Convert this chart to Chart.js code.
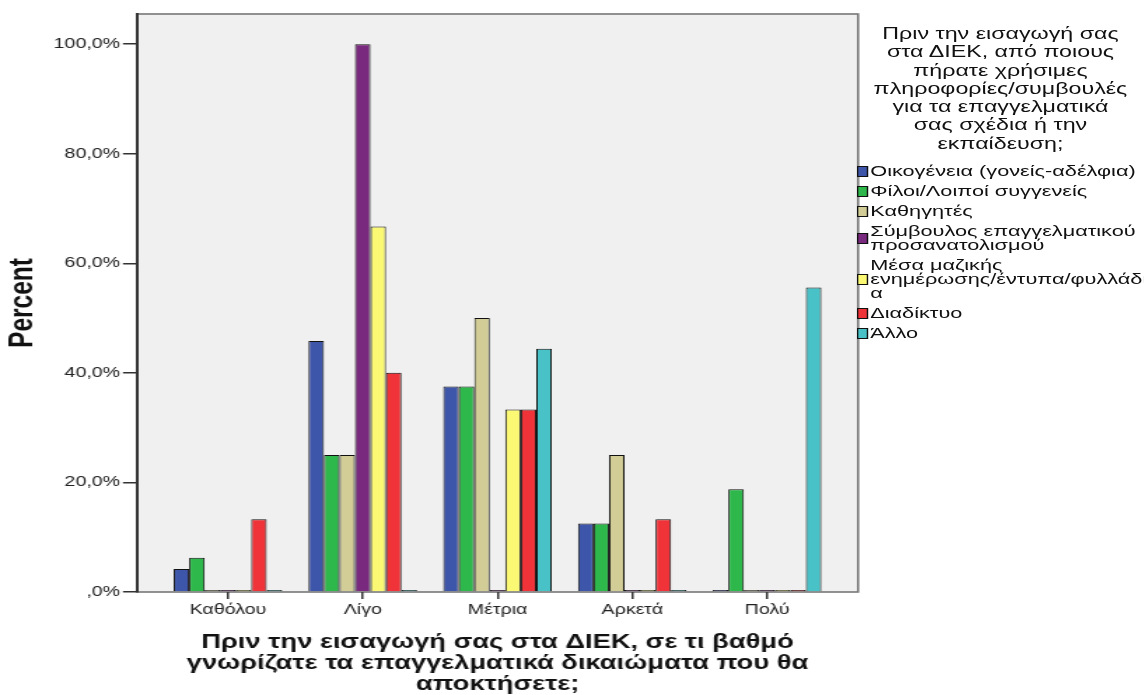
<!DOCTYPE html>
<html>
<head>
<meta charset="utf-8">
<script src="https://cdn.jsdelivr.net/npm/chart.js@4"></script>
<style>
  body { margin: 0; background: #fff; overflow: hidden; font-family: 'Liberation Sans', Arial, sans-serif; }
  /* the original picture is stretched sideways, so the whole chart is drawn narrow and scaled */
  #wrap { position: absolute; left: 0; top: 0; width: 817px; height: 695px; transform: scaleX(1.40024); transform-origin: 0 0; }
  #box { position: absolute; left: 0; top: 0; width: 817px; height: 695px; }
  #legend_title { position: absolute; left: 612px; top: 25px; width: 205px; text-align: center; font-size: 16.6px; line-height: 18.3px; color: #111; }
  #legend_items { position: absolute; left: 612px; top: 164px; }
  .item { display: flex; align-items: center; margin-bottom: 6px; }
  .swatch { width: 6px; height: 9px; border: 1px solid #111; margin-right: 1.5px; flex: none; }
  .txt { font-size: 15.5px; line-height: 14px; color: #111; white-space: nowrap; }
</style>
</head>
<body>
<div id="wrap">
  <div id="box"><canvas id="myChart"></canvas></div>
  <div id="legend_title"></div>
  <div id="legend_items"></div>
</div>
<script>
const categories = ['Καθόλου', 'Λίγο', 'Μέτρια', 'Αρκετά', 'Πολύ']
const series_names = [
    'Οικογένεια (γονείς-αδέλφια)',
    'Φίλοι/Λοιποί συγγενείς',
    'Καθηγητές',
    'Σύμβουλος επαγγελματικού\nπροσανατολισμού',
    'Μέσα μαζικής\nενημέρωσης/έντυπα/φυλλάδι\nα',
    'Διαδίκτυο',
    'Άλλο'
]
const series_colors = ['#3e56aa', '#2eb84b', '#d2cd96', '#7a2a7e', '#fbf874', '#ef3339', '#48c2c7']

// percent per category, one list per series
const family = [4.2, 45.8, 37.5, 12.5, 0]
const friends = [6.25, 25.0, 37.5, 12.5, 18.75]
const teachers = [0, 25.0, 50.0, 25.0, 0]
const counsellor = [0, 100.0, 0, 0, 0]
const media = [0, 66.7, 33.3, 0, 0]
const internet = [13.3, 40.0, 33.3, 13.3, 0]
const other = [0, 0, 44.4, 0, 55.6]

const y_tick_values = [0, 20, 40, 60, 80, 100]
const y_tick_labels = [',0%', '20,0%', '40,0%', '60,0%', '80,0%', '100,0%']

const legend_title = 'Πριν την εισαγωγή σας\nστα ΔΙΕΚ, από ποιους\nπήρατε χρήσιμες\nπληροφορίες/συμβουλές\nγια τα επαγγελματικά\nσας σχέδια ή την\nεκπαίδευση;'
const x_title = ['Πριν την εισαγωγή σας στα ΔΙΕΚ, σε τι βαθμό', 'γνωρίζατε τα επαγγελματικά δικαιώματα που θα', 'αποκτήσετε;']

const all_series = [family, friends, teachers, counsellor, media, internet, other]

// legend as html because the labels wrap over several lines
document.getElementById('legend_title').innerHTML = legend_title.split('\n').join('<br>')
const legend_items = document.getElementById('legend_items')
series_names.forEach((name, i) => {
    const item = document.createElement('div')
    item.className = 'item'
    item.innerHTML = `<div class="swatch" style="background:${series_colors[i]}"></div><div class="txt">${name.split('\n').join('<br>')}</div>`
    legend_items.appendChild(item)
})

const plot_frame = {
    id: 'plot_frame',
    beforeDraw(chart) {
        const { ctx, chartArea: a } = chart
        ctx.save()
        ctx.fillStyle = '#f0f0f0'
        ctx.fillRect(a.left, a.top, a.right - a.left, a.bottom - a.top)
        ctx.strokeStyle = '#777'
        ctx.lineWidth = 1.6
        ctx.strokeRect(a.left, a.top, a.right - a.left, a.bottom - a.top)
        ctx.restore()
    }
}

const ctx = document.getElementById('myChart')
new Chart(ctx, {
    type: 'bar',
    data: {
        datasets: all_series.map((values, i) => ({
            label: series_names[i].replace(/\n/g, ' '),
            data: values.map((v, j) => ({ x: j + 1, y: v })),
            backgroundColor: series_colors[i],
            borderColor: '#111',
            borderWidth: 1,
            minBarLength: 2
        }))
    },
    options: {
        responsive: true,
        maintainAspectRatio: false,
        animation: false,
        categoryPercentage: 0.805,
        barPercentage: 1,
        layout: { padding: { left: 0, top: 14, right: 204.2, bottom: 0 } },
        plugins: { legend: { display: false }, tooltip: { enabled: false } },
        scales: {
            x: {
                type: 'linear',
                offset: false,
                min: 0.325,
                max: 5.675,
                afterFit: (scale) => { scale.height = 103 },
                afterBuildTicks: (scale) => { scale.ticks = categories.map((c, i) => ({ value: i + 1 })) },
                ticks: {
                    callback: (value, index) => categories[index],
                    font: { family: 'Liberation Sans', size: 14 },
                    color: '#222',
                    padding: 3,
                    maxRotation: 0
                },
                grid: { offset: false, drawOnChartArea: false, tickLength: 7, color: '#333', lineWidth: 1.5 },
                border: { display: false },
                title: {
                    display: true,
                    text: x_title,
                    font: { family: 'Liberation Sans', size: 19.5, weight: 'bold', lineHeight: 1.08 },
                    color: '#111',
                    padding: 0
                }
            },
            y: {
                min: 0,
                max: 105.5,
                afterFit: (scale) => { scale.width = 97.8 },
                afterBuildTicks: (scale) => { scale.ticks = y_tick_values.map(v => ({ value: v })) },
                ticks: {
                    callback: (value, index) => y_tick_labels[index],
                    font: { family: 'Liberation Sans', size: 14 },
                    color: '#222',
                    padding: 2
                },
                grid: { drawOnChartArea: false, tickLength: 10, color: '#333', lineWidth: 1.5 },
                border: { color: '#333', width: 2 },
                title: {
                    display: true,
                    text: 'Percent',
                    font: { family: 'Liberation Sans', size: 24.5, weight: 'bold', lineHeight: 1.2 },
                    color: '#111',
                    padding: { top: 1.5, bottom: 0 }
                }
            }
        }
    },
    plugins: [plot_frame]
})
</script>
</body>
</html>
